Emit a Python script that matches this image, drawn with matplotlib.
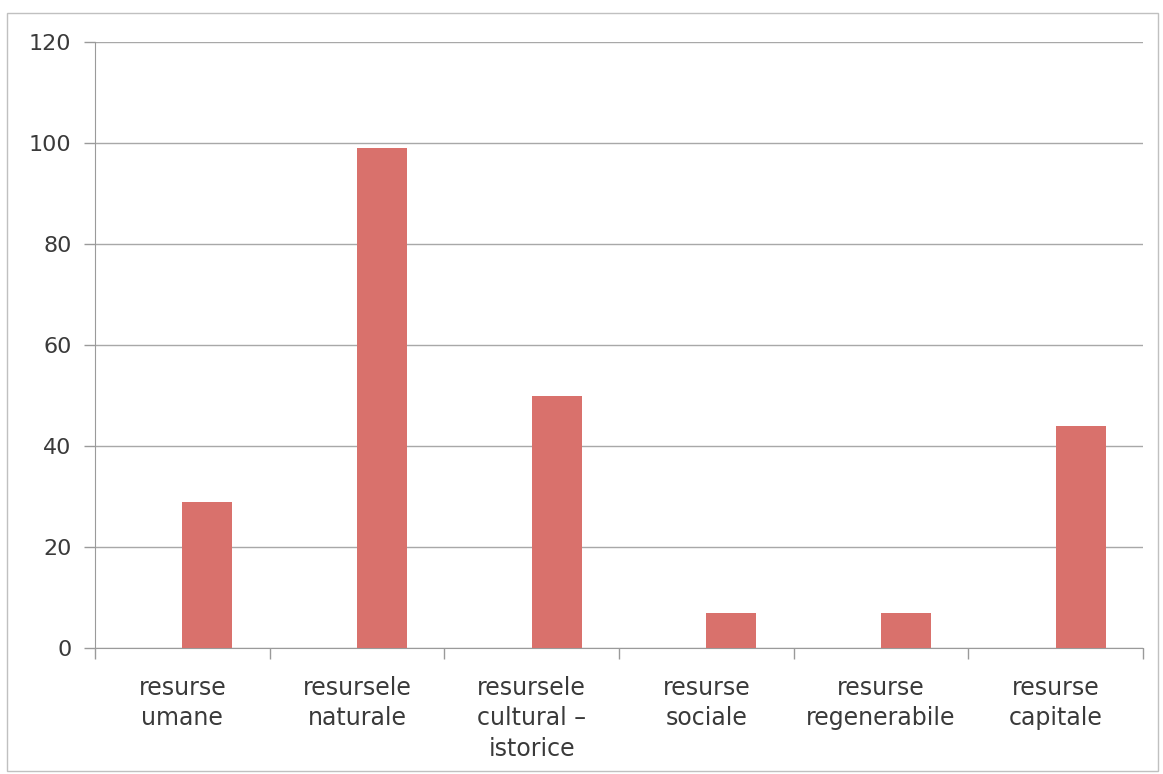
import matplotlib
matplotlib.use("Agg")
import matplotlib.pyplot as plt
from matplotlib.patches import Rectangle
import numpy as np

categories = ["resurse\numane", "resursele\nnaturale", "resursele\ncultural –\nistorice",
              "resurse\nsociale", "resurse\nregenerabile", "resurse\ncapitale"]
values = [29, 99, 50, 7, 7, 44]
yticks = [0, 20, 40, 60, 80, 100, 120]

plt.rcParams['font.family'] = ['DejaVu Sans']

fig = plt.figure(figsize=(11.63, 7.74), dpi=100)
ax = fig.add_axes([95/1163, 1-648/774, 1048/1163, 606/774])

x = np.arange(len(categories))
bw = 1/3.5
ax.bar(x + bw/2, values, width=bw, color='#d9716c', zorder=3)

ax.set_xlim(-0.5, len(categories) - 0.5)
ax.set_ylim(0, 120)
ax.set_yticks(yticks)
ax.set_yticklabels([str(v) for v in yticks], fontsize=16, color='#3a3a3a')
ax.set_xticks(x)
ax.set_xticklabels(categories, fontsize=17, color='#3a3a3a', linespacing=1.35)
ax.tick_params(axis='x', length=0, pad=20)
ax.set_xticks(np.arange(-0.5, len(categories)), minor=True)
ax.tick_params(axis='x', which='minor', length=8, color='#9a9a9a', width=1)
ax.tick_params(axis='y', length=8, color='#9a9a9a', width=1, pad=9)

ax.grid(axis='y', color='#a8a8a8', linewidth=1, zorder=0)
for s in ['top', 'right']:
    ax.spines[s].set_visible(False)
ax.spines['left'].set_color('#9a9a9a')
ax.spines['bottom'].set_color('#9a9a9a')

fig.patches.append(Rectangle((7/1163, 3/774), 1151/1163, 758/774, transform=fig.transFigure,
                             fill=False, edgecolor='#c0c0c0', linewidth=1))

fig.savefig("out.png", dpi=100)
